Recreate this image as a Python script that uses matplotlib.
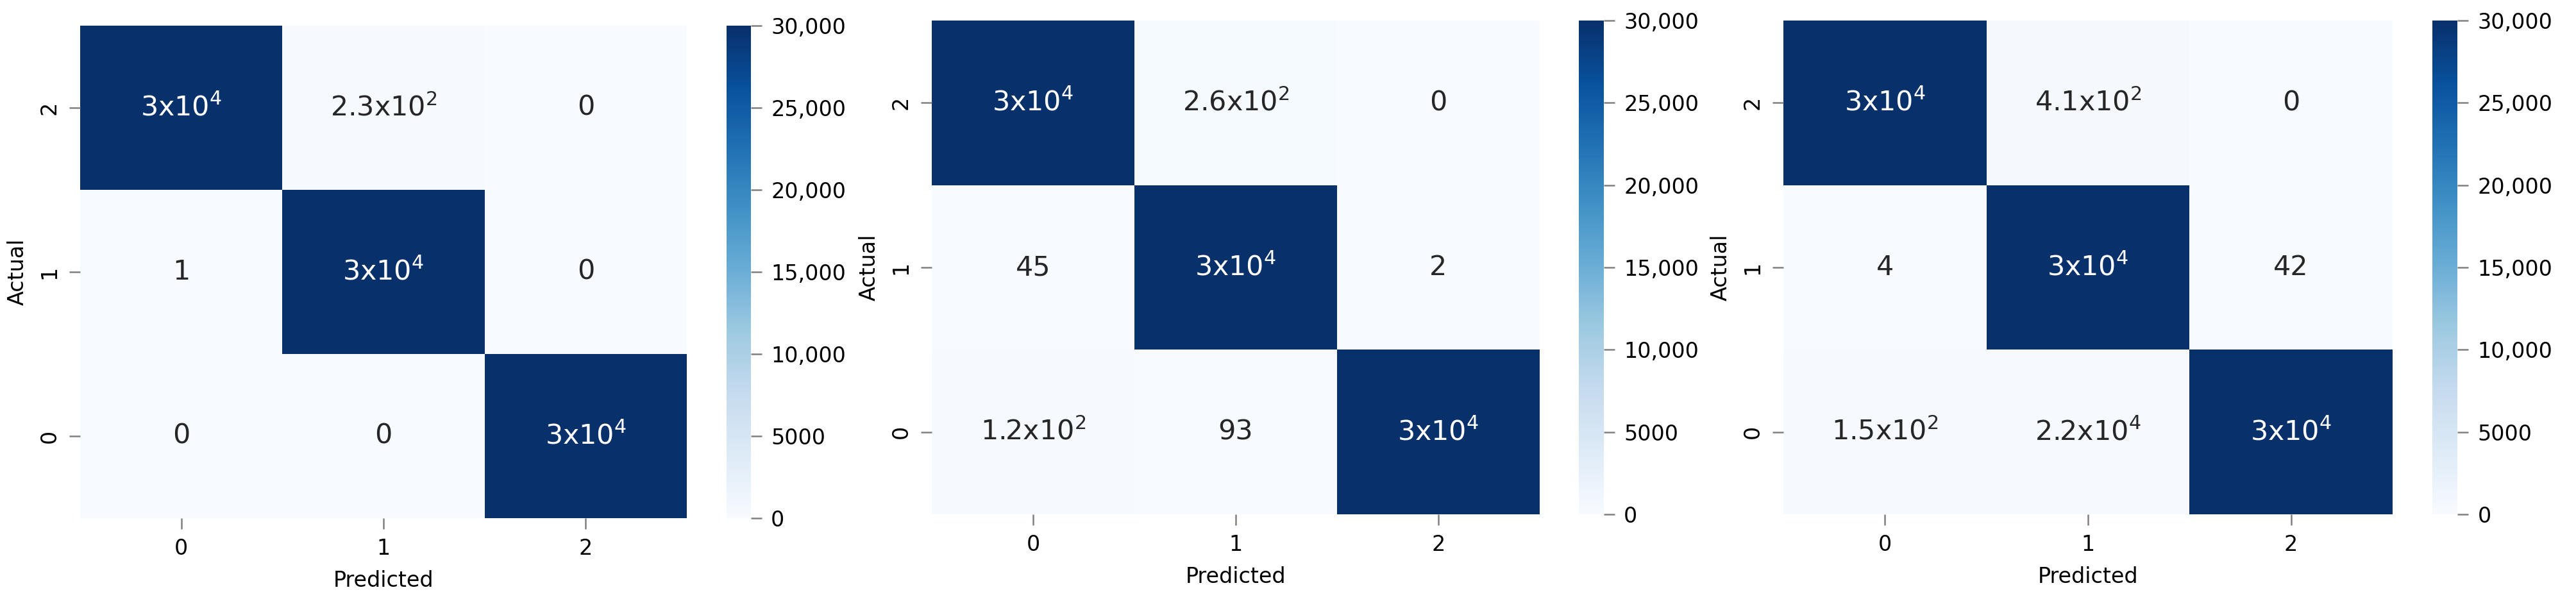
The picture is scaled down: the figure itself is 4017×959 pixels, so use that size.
import numpy as np
import matplotlib
matplotlib.use("Agg")
import matplotlib.pyplot as plt
import seaborn as sns

plt.rcParams['font.family'] = ['DejaVu Sans']

classes = ['0', '1', '2']

# confusion matrices, rows = actual 0,1,2 ; cols = predicted 0,1,2
cm1 = [[0, 0, 30000],
       [1, 30000, 0],
       [30000, 230, 0]]
cm2 = [[120, 93, 30000],
       [45, 30000, 2],
       [30000, 260, 0]]
cm3 = [[150, 220, 30000],
       [4, 30000, 42],
       [30000, 410, 0]]

ann1 = [['0', '0', '3x10$^{4}$'],
        ['1', '3x10$^{4}$', '0'],
        ['3x10$^{4}$', '2.3x10$^{2}$', '0']]
ann2 = [['1.2x10$^{2}$', '93', '3x10$^{4}$'],
        ['45', '3x10$^{4}$', '2'],
        ['3x10$^{4}$', '2.6x10$^{2}$', '0']]
ann3 = [['1.5x10$^{2}$', '2.2x10$^{4}$', '3x10$^{4}$'],
        ['4', '3x10$^{4}$', '42'],
        ['3x10$^{4}$', '4.1x10$^{2}$', '0']]

cbar_ticks = [0, 5000, 10000, 15000, 20000, 25000, 30000]
cbar_labels = ['0', '5000', '10,000', '15,000', '20,000', '25,000', '30,000']
vmin, vmax = 0, 30000

W, H = 4017, 959
fig = plt.figure(figsize=(W / 300, H / 300), dpi=300)

# pixel boxes: (left, right, top, bottom, cbar_left, cbar_width)
boxes = [(125, 1071, 40, 808, 1133, 38),
         (1453, 2401, 32, 802, 2462, 39),
         (2781, 3731, 32, 802, 3793, 39)]

for (cm, ann), (l, r, t, b, cl, cw) in zip([(cm1, ann1), (cm2, ann2), (cm3, ann3)], boxes):
    ax = fig.add_axes([l / W, (H - b) / H, (r - l) / W, (b - t) / H])
    cax = fig.add_axes([cl / W, (H - b) / H, cw / W, (b - t) / H])
    sns.heatmap(np.array(cm, dtype=float), annot=np.array(ann), fmt='', cmap='Blues',
                vmin=vmin, vmax=vmax, ax=ax, cbar_ax=cax, square=False,
                xticklabels=classes, yticklabels=classes,
                annot_kws={'fontsize': 10.3})
    ax.invert_yaxis()
    ax.set_xlabel('Predicted', fontsize=8)
    ax.set_ylabel('Actual', fontsize=8)
    ax.tick_params(axis='both', labelsize=8, length=4, width=0.6, color='0.5')
    for lab in ax.get_yticklabels():
        lab.set_rotation(90)
        lab.set_va('center')
    cax.set_yticks(cbar_ticks)
    cax.set_yticklabels(cbar_labels)
    cax.tick_params(labelsize=8, length=4, width=0.6, color='0.5')

fig.savefig('out.png', dpi=300)
